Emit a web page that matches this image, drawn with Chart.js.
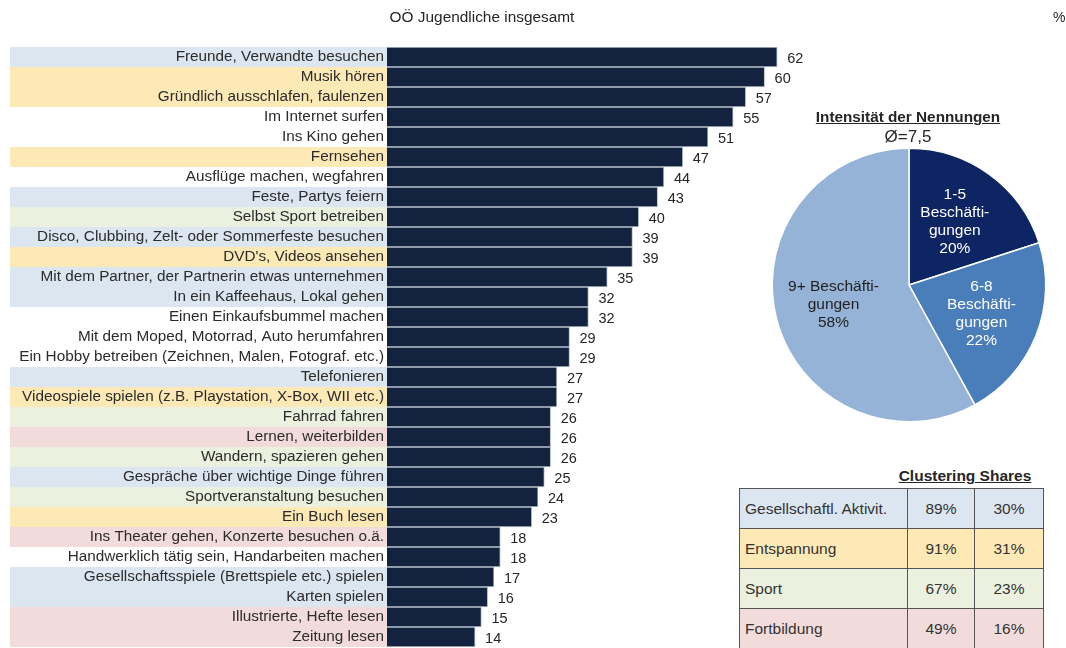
<!DOCTYPE html>
<html>
<head>
<meta charset="utf-8">
<script src="https://cdn.jsdelivr.net/npm/chart.js@4"></script>
<style>
  html, body { margin:0; padding:0; background:#fff; }
  body { width:1066px; height:648px; overflow:hidden; position:relative; font-family:"Liberation Sans", Arial, sans-serif; color:#262626; }
  .abs { position:absolute; white-space:nowrap; }
  #tbl { position:absolute; left:739px; top:488px; border-collapse:collapse; font-size:15.5px; color:#333; }
  #tbl td { border:1px solid #555; height:39px; padding:0; }
</style>
</head>
<body>
<canvas id="bar" width="820" height="648" class="abs" style="left:0;top:0"></canvas>
<canvas id="pie" width="300" height="300" class="abs" style="left:759px;top:135px"></canvas>
<div class="abs" style="left:382px;top:8px;width:200px;text-align:center;font-size:15.4px;line-height:18px;">OÖ Jugendliche insgesamt</div>
<div class="abs" style="left:1053px;top:8px;font-size:14px;line-height:18px;">%</div>
<div class="abs" style="left:808px;top:108px;width:200px;text-align:center;font-size:15.3px;font-weight:bold;text-decoration:underline;line-height:18px;">Intensität der Nennungen</div>
<div class="abs" style="left:858px;top:128px;width:100px;text-align:center;font-size:17px;line-height:18px;">Ø=7,5</div>
<div class="abs" style="left:885px;top:467px;width:160px;text-align:center;font-size:15.5px;font-weight:bold;text-decoration:underline;line-height:18px;">Clustering Shares</div>
<table id="tbl"></table>
<script>
// ---------- DATA ----------
const categories = [
  "Freunde, Verwandte besuchen",
  "Musik hören",
  "Gründlich ausschlafen, faulenzen",
  "Im Internet surfen",
  "Ins Kino gehen",
  "Fernsehen",
  "Ausflüge machen, wegfahren",
  "Feste, Partys feiern",
  "Selbst Sport betreiben",
  "Disco, Clubbing, Zelt- oder Sommerfeste besuchen",
  "DVD's, Videos ansehen",
  "Mit dem Partner, der Partnerin etwas unternehmen",
  "In ein Kaffeehaus, Lokal gehen",
  "Einen Einkaufsbummel machen",
  "Mit dem Moped, Motorrad, Auto herumfahren",
  "Ein Hobby betreiben (Zeichnen, Malen, Fotograf. etc.)",
  "Telefonieren",
  "Videospiele spielen (z.B. Playstation, X-Box, WII etc.)",
  "Fahrrad fahren",
  "Lernen, weiterbilden",
  "Wandern, spazieren gehen",
  "Gespräche über wichtige Dinge führen",
  "Sportveranstaltung besuchen",
  "Ein Buch lesen",
  "Ins Theater gehen, Konzerte besuchen o.ä.",
  "Handwerklich tätig sein, Handarbeiten machen",
  "Gesellschaftsspiele (Brettspiele etc.) spielen",
  "Karten spielen",
  "Illustrierte, Hefte lesen",
  "Zeitung lesen"
];
const values = [62,60,57,55,51,47,44,43,40,39,39,35,32,32,29,29,27,27,26,26,26,25,24,23,18,18,17,16,15,14];
// cluster of each activity: G=Gesellschaftl., E=Entspannung, S=Sport, F=Fortbildung, N=none
const rowGroups = ["G","E","E","N","N","E","N","G","S","G","E","G","G","N","N","N","G","E","S","F","S","G","S","E","F","N","G","G","F","F"];

const pieLabels = [["1-5","Beschäfti-","gungen"],["6-8","Beschäfti-","gungen"],["9+ Beschäfti-","gungen"]];
const pieValues = [20,22,58];

const clusterKeys = ["G","E","S","F"];
const clusterNames = ["Gesellschaftl. Aktivit.","Entspannung","Sport","Fortbildung"];
const clusterReach = [89,91,67,49];
const clusterShares = [30,31,23,16];

// ---------- STYLE ----------
const groupColors = { G:"#dce6f1", E:"#fde9b6", S:"#ebf1de", F:"#f2dcdb", N:"#ffffff" };
const FONT = "'Liberation Sans', Arial, sans-serif";

// ---------- BAR CHART ----------
const bandPlugin = {
  id:"bands",
  beforeDraw(chart){
    const ctx = chart.ctx, ys = chart.scales.y, left = chart.chartArea.left;
    const step = ys.getPixelForValue(1) - ys.getPixelForValue(0);
    ctx.save();
    rowGroups.forEach((g,i)=>{
      const y = ys.getPixelForValue(i);
      ctx.fillStyle = groupColors[g];
      ctx.fillRect(10, y - step/2, left + 2 - 10, step);
    });
    ctx.restore();
  }
};
const valuePlugin = {
  id:"vals",
  afterDatasetsDraw(chart){
    const ctx = chart.ctx, meta = chart.getDatasetMeta(0);
    ctx.save();
    ctx.font = "14.5px " + FONT;
    ctx.fillStyle = "#262626";
    ctx.textBaseline = "middle";
    ctx.textAlign = "left";
    meta.data.forEach((bar,i)=>{ ctx.fillText(String(values[i]), bar.x + 10, bar.y + 2); });
    ctx.restore();
  }
};
new Chart(document.getElementById("bar"), {
  type:"bar",
  data:{ labels:categories, datasets:[{ data:values, backgroundColor:"#13233f", borderColor:"#b9c2cf", borderWidth:1, barPercentage:1, categoryPercentage:1 }] },
  options:{
    responsive:false, animation:false, indexAxis:"y",
    layout:{ padding:{ top:47, bottom:1, left:0, right:0 } },
    plugins:{ legend:{display:false}, tooltip:{enabled:false} },
    scales:{
      x:{ display:false, min:0, max:68.8 },
      y:{ grid:{display:false, drawTicks:false}, border:{display:false},
          ticks:{ autoSkip:false, padding:3, color:"#2b2b2b", font:{family:FONT, size:15.3} },
          afterFit(s){ s.width = 387; s.paddingTop = 0; s.paddingBottom = 0; } }
    }
  },
  plugins:[bandPlugin, valuePlugin]
});

// ---------- PIE ----------
const pieLabelPlugin = {
  id:"pielabels",
  afterDatasetsDraw(chart){
    const ctx = chart.ctx, meta = chart.getDatasetMeta(0);
    const colors = ["#ffffff","#ffffff","#1f1f1f"];
    ctx.save();
    ctx.font = "15.5px " + FONT;
    ctx.textAlign = "center";
    ctx.textBaseline = "middle";
    meta.data.forEach((arc,i)=>{
      const mid = (arc.startAngle + arc.endAngle)/2;
      const r = arc.outerRadius * 0.57;
      const cx = arc.x + Math.cos(mid)*r, cy = arc.y + Math.sin(mid)*r;
      const lines = pieLabels[i].concat([pieValues[i] + "%"]);
      const lh = 18;
      ctx.fillStyle = colors[i];
      lines.forEach((t,k)=>{ ctx.fillText(t, cx, cy + (k - (lines.length-1)/2)*lh); });
    });
    ctx.restore();
  }
};
new Chart(document.getElementById("pie"), {
  type:"pie",
  data:{ labels:pieLabels.map(l=>l.join(" ")), datasets:[{ data:pieValues, backgroundColor:["#0e2563","#4a7ebb","#95b3d7"], borderColor:"#ffffff", borderWidth:1.5 }] },
  options:{ responsive:false, animation:false, layout:{padding:12.5},
    plugins:{ legend:{display:false}, tooltip:{enabled:false} } },
  plugins:[pieLabelPlugin]
});

// ---------- TABLE ----------
const tbl = document.getElementById("tbl");
clusterNames.forEach((n,i)=>{
  const tr = document.createElement("tr");
  tr.style.background = groupColors[clusterKeys[i]];
  const c1 = document.createElement("td"); c1.textContent = n; c1.style.width="162px"; c1.style.paddingLeft="5px";
  const c2 = document.createElement("td"); c2.textContent = clusterReach[i] + "%"; c2.style.width="66px"; c2.style.textAlign="center";
  const c3 = document.createElement("td"); c3.textContent = clusterShares[i] + "%"; c3.style.width="68px"; c3.style.textAlign="center";
  tr.append(c1,c2,c3); tbl.appendChild(tr);
});
</script>
</body>
</html>
